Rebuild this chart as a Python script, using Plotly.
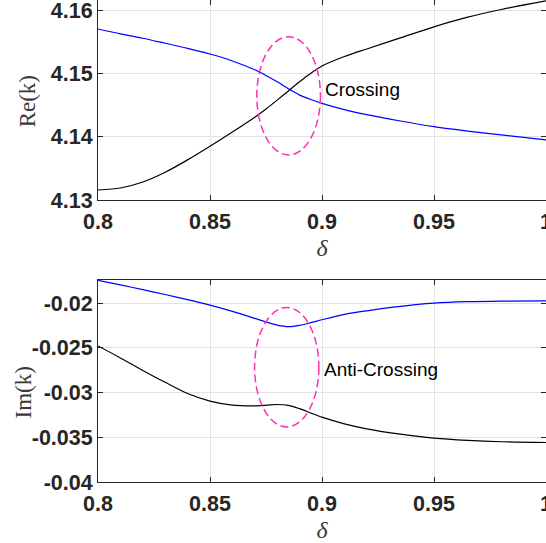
import plotly.graph_objects as go

# ---------------- data ----------------
delta = [0.80, 0.81, 0.82, 0.83, 0.84, 0.85, 0.86, 0.87, 0.875, 0.88, 0.885,
         0.89, 0.895, 0.90, 0.91, 0.92, 0.935, 0.95, 0.965, 0.98, 1.00]

re_blue = [4.15706, 4.1563, 4.1556, 4.1548, 4.1540, 4.1531, 4.1520, 4.1506,
           4.1497, 4.1487, 4.1476, 4.1466, 4.1459, 4.1453, 4.1443, 4.1435,
           4.1425, 4.1416, 4.1409, 4.1403, 4.1395]
re_black = [4.13158, 4.13190, 4.13285, 4.13440, 4.13635, 4.13850, 4.14075,
            4.14310, 4.14440, 4.14580, 4.14725, 4.14870, 4.15005, 4.15120,
            4.15270, 4.15390, 4.15565, 4.15740, 4.15893, 4.16015, 4.16150]

im_blue = [-0.01745, -0.01795, -0.01848, -0.01903, -0.01960, -0.02022,
           -0.02092, -0.02170, -0.02210, -0.02245, -0.02262, -0.02248,
           -0.02218, -0.02185, -0.02125, -0.02085, -0.02035, -0.02000,
           -0.01983, -0.01976, -0.01974]
im_black = [-0.02478, -0.02612, -0.02752, -0.02885, -0.03010, -0.03095,
            -0.03140, -0.03148, -0.03142, -0.03133, -0.03142, -0.03180,
            -0.03228, -0.03275, -0.03350, -0.03405, -0.03465, -0.03510,
            -0.03535, -0.03550, -0.03558]

x_ticks = [0.8, 0.85, 0.9, 0.95, 1.0]
x_ticktext = ["0.8", "0.85", "0.9", "0.95", "1"]
re_ticks = [4.13, 4.14, 4.15, 4.16]
re_ticktext = ["4.13", "4.14", "4.15", "4.16"]
im_ticks = [-0.04, -0.035, -0.03, -0.025, -0.02]
im_ticktext = ["-0.04", "-0.035", "-0.03", "-0.025", "-0.02"]

crossing_ellipse = dict(x0=0.8709, x1=0.8993, y0=4.13712, y1=4.15584)
anticrossing_ellipse = dict(x0=0.8699, x1=0.8986, y0=-0.03384, y1=-0.02048)
crossing_label = dict(x=0.9005, y=4.14752, text="Crossing")
anticrossing_label = dict(x=0.9000, y=-0.02742, text="Anti-Crossing")

# ---------------- figure ----------------
fig = go.Figure()

line_w = 1.2
for xa, ya, ys, col in [("x", "y", re_blue, "#0000ff"), ("x", "y", re_black, "#000000"),
                        ("x2", "y2", im_blue, "#0000ff"), ("x2", "y2", im_black, "#000000")]:
    fig.add_trace(go.Scatter(x=delta, y=ys, mode="lines", xaxis=xa, yaxis=ya,
                             line=dict(color=col, width=line_w, shape="spline", smoothing=0.8),
                             showlegend=False))

axis_col = "#262626"
tickfont = dict(family="Liberation Sans, Arial, sans-serif", size=21.5, color=axis_col, weight="bold")
common = dict(showline=True, linecolor=axis_col, linewidth=1, mirror="ticks",
              ticks="inside", ticklen=5, tickcolor=axis_col, tickwidth=1,
              showgrid=True, gridcolor="#e3e3e3", gridwidth=1, zeroline=False,
              tickfont=tickfont, ticklabeloverflow="allow", automargin=False)
serif = "Liberation Serif, Times New Roman, serif"
title_col = "#3a3a3a"

fig.update_layout(
    width=546, height=543,
    margin=dict(l=97.5, r=0, t=0, b=61, autoexpand=False),
    paper_bgcolor="white", plot_bgcolor="white",
    xaxis=dict(domain=[0, 1], anchor="y", range=[0.8, 1.0],
               tickvals=x_ticks, ticktext=x_ticktext, ticklabelstandoff=2,
               title=dict(text="<i>δ</i>", font=dict(family=serif, size=24, color=title_col), standoff=6),
               **common),
    yaxis=dict(domain=[0.5851, 1], anchor="x", range=[4.13, 4.16165],
               tickvals=re_ticks, ticktext=re_ticktext, **common),
    xaxis2=dict(domain=[0, 1], anchor="y2", range=[0.8, 1.0],
                tickvals=x_ticks, ticktext=x_ticktext, ticklabelstandoff=2,
                title=dict(text="<i>δ</i>", font=dict(family=serif, size=24, color=title_col), standoff=6),
                **common),
    yaxis2=dict(domain=[0, 0.4201], anchor="x2", range=[-0.04, -0.01735],
                tickvals=im_ticks, ticktext=im_ticktext, **common),
)

# y-axis titles (placed like the MATLAB original)
ytitle_font = dict(family=serif, size=23, color=title_col)
fig.add_annotation(xref="paper", yref="paper", x=-0.157, y=0.789, text="Re(k)",
                   textangle=-90, showarrow=False, xanchor="center", yanchor="middle", font=ytitle_font)
fig.add_annotation(xref="paper", yref="paper", x=-0.167, y=0.186, text="Im(k)",
                   textangle=-90, showarrow=False, xanchor="center", yanchor="middle", font=ytitle_font)

ell_line = dict(color="#ff2fb0", width=1.5, dash="8px,4px")
fig.add_shape(type="circle", xref="x", yref="y", line=ell_line, **crossing_ellipse)
fig.add_shape(type="circle", xref="x2", yref="y2", line=ell_line, **anticrossing_ellipse)

lab_font = dict(family="Liberation Sans, Arial, sans-serif", size=19, color="#000000")
fig.add_annotation(xref="x", yref="y", showarrow=False, xanchor="left", yanchor="middle",
                   font=lab_font, **crossing_label)
fig.add_annotation(xref="x2", yref="y2", showarrow=False, xanchor="left", yanchor="middle",
                   font=lab_font, **anticrossing_label)

fig.write_html("out.html")
